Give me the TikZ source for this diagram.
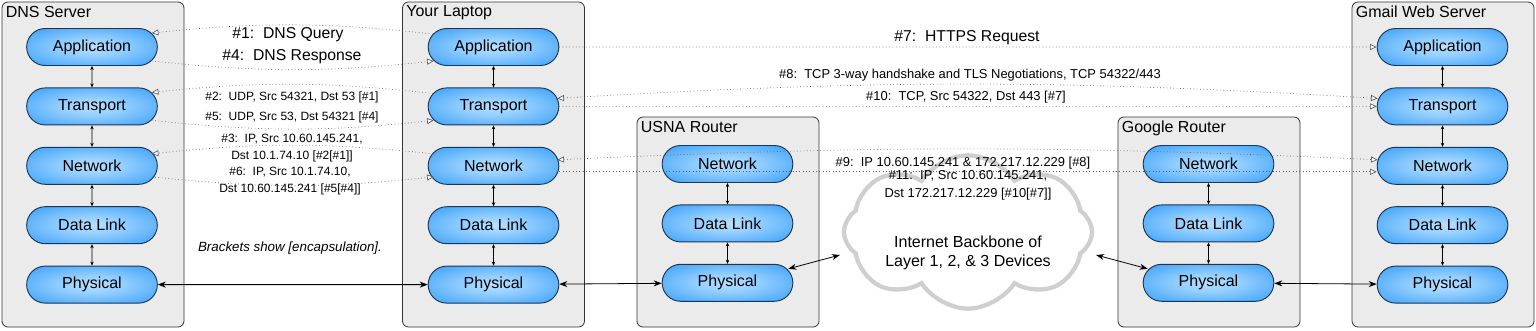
\documentclass[tikz,border=0pt]{standalone}
\usepackage{fontspec}
\setmainfont{Liberation Sans}
\usetikzlibrary{positioning,arrows.meta,shapes.misc,shapes.symbols}

\definecolor{boxgray}{HTML}{EBEBEB}
\definecolor{boxedge}{HTML}{333333}
\definecolor{pillin}{HTML}{B8E0FF}
\definecolor{pillmid}{HTML}{5CB4FF}
\definecolor{pillout}{HTML}{1A8CF5}
\definecolor{pilledge}{HTML}{1C3550}
\definecolor{msggray}{HTML}{5A5A5A}
\definecolor{cloudgray}{HTML}{CFCFCF}

\pgfdeclareradialshading{pillshade}{\pgfpointorigin}{color(0bp)=(pillin); color(12bp)=(pillin!60!pillmid); color(35bp)=(pillmid!50!pillout); color(50bp)=(pillout)}

\begin{document}
\begin{tikzpicture}[
  x=0.75pt, y=0.75pt,
  host/.style={draw=boxedge, fill=boxgray, rounded corners=4.5pt, line width=0.6pt, inner sep=0pt, minimum width=136.5pt},
  title/.style={anchor=north west, inner sep=3pt, font=\fontsize{12}{14}\selectfont},
  pill/.style={rounded rectangle, draw=pilledge, line width=0.7pt, shading=pillshade, minimum width=98pt, minimum height=27.75pt, inner sep=0pt, font=\fontsize{12}{14}\selectfont},
  updown/.style={{Stealth[length=3pt,width=2.6pt]}-{Stealth[length=3pt,width=2.6pt]}, line width=0.6pt},
  wire/.style={{Stealth[length=6pt,width=4.5pt]}-{Stealth[length=6pt,width=4.5pt]}, line width=0.6pt},
  msg/.style={dotted, draw=msggray, line width=0.5pt, -{Triangle[length=5pt,width=4.5pt,fill=white]}},
  msgboth/.style={msg, {Triangle[length=5pt,width=4.5pt,fill=white]}-{Triangle[length=5pt,width=4.5pt,fill=white]}},
  biglbl/.style={inner sep=1pt, font=\fontsize{11.8}{13}\selectfont},
  lbl/.style={inner sep=1pt, align=center, font=\fontsize{9}{12.5}\selectfont},
  widelbl/.style={lbl, font=\fontsize{9.7}{11}\selectfont}
]
\useasboundingbox (0,0) rectangle (1536,-330);

% hosts and routers
\node[host, minimum height=243.75pt, label={[title]north west:DNS Server}] (dns) at (93,-164.5) {};
\node[host, minimum height=243.75pt, label={[title]north west:Your Laptop}] (lap) at (493.5,-164.5) {};
\node[host, minimum height=157.5pt, label={[title]north west:USNA Router}] (usna) at (728,-222) {};
\node[host, minimum height=157.5pt, label={[title]north west:Google Router}] (goog) at (1209,-222) {};
\node[host, minimum height=243.75pt, label={[title]north west:Gmail Web Server}] (gmail) at (1443,-164.5) {};

% layer stacks
\node[pill] (dnsApp) at (92,-47) {Application};
\node[pill, below=16.1pt of dnsApp] (dnsTra) {Transport};
\node[pill, below=16.1pt of dnsTra] (dnsNet) {Network};
\node[pill, below=16.1pt of dnsNet] (dnsDl) {Data Link};
\node[pill, below=16.1pt of dnsDl] (dnsPhy) {Physical};

\node[pill] (lapApp) at (493.5,-47) {Application};
\node[pill, below=16.1pt of lapApp] (lapTra) {Transport};
\node[pill, below=16.1pt of lapTra] (lapNet) {Network};
\node[pill, below=16.1pt of lapNet] (lapDl) {Data Link};
\node[pill, below=16.1pt of lapDl] (lapPhy) {Physical};

\node[pill] (usnaNet) at (727.5,-164) {Network};
\node[pill, below=16.1pt of usnaNet] (usnaDl) {Data Link};
\node[pill, below=16.1pt of usnaDl] (usnaPhy) {Physical};

\node[pill] (googNet) at (1208.5,-164) {Network};
\node[pill, below=16.1pt of googNet] (googDl) {Data Link};
\node[pill, below=16.1pt of googDl] (googPhy) {Physical};

\node[pill] (gmailApp) at (1442.5,-47) {Application};
\node[pill, below=16.1pt of gmailApp] (gmailTra) {Transport};
\node[pill, below=16.1pt of gmailTra] (gmailNet) {Network};
\node[pill, below=16.1pt of gmailNet] (gmailDl) {Data Link};
\node[pill, below=16.1pt of gmailDl] (gmailPhy) {Physical};

\draw[updown] (dnsApp) -- (dnsTra);
\draw[updown] (dnsTra) -- (dnsNet);
\draw[updown] (dnsNet) -- (dnsDl);
\draw[updown] (dnsDl) -- (dnsPhy);
\draw[updown] (lapApp) -- (lapTra);
\draw[updown] (lapTra) -- (lapNet);
\draw[updown] (lapNet) -- (lapDl);
\draw[updown] (lapDl) -- (lapPhy);
\draw[updown] (usnaNet) -- (usnaDl);
\draw[updown] (usnaDl) -- (usnaPhy);
\draw[updown] (googNet) -- (googDl);
\draw[updown] (googDl) -- (googPhy);
\draw[updown] (gmailApp) -- (gmailTra);
\draw[updown] (gmailTra) -- (gmailNet);
\draw[updown] (gmailNet) -- (gmailDl);
\draw[updown] (gmailDl) -- (gmailPhy);

% backbone
\node[cloud, cloud puffs=8, cloud puff arc=115, cloud ignores aspect, draw=cloudgray, line width=3.2pt, fill=white, minimum width=186pt, minimum height=115pt] (backbone) at (968,-232) {};
\node[inner sep=1pt, align=center, font=\fontsize{12}{14.5}\selectfont] (backboneTxt) at (968,-253) {Internet Backbone of\\Layer 1, 2, \& 3 Devices};

% physical links
\draw[wire] (dnsPhy) -- (lapPhy);
\draw[wire] (lapPhy) -- (usnaPhy);
\draw[wire] ([shift={(-5,14)}]usnaPhy.east) -- ([shift={(-2,-23)}]backbone.west);
\draw[wire] ([shift={(2,-23)}]backbone.east) -- ([shift={(5,14)}]googPhy.west);
\draw[wire] (googPhy) -- (gmailPhy);

% DNS lookup
\draw[msg] ([shift={(5,13)}]lapApp.west) to[bend right=6] ([shift={(-6,14)}]dnsApp.east);
\draw[msg] ([shift={(-6,-14)}]dnsApp.east) to[bend right=6] ([shift={(6,-14)}]lapApp.west);
\draw[msg] ([shift={(5,13)}]lapTra.west) to[bend right=6] ([shift={(-6,14)}]dnsTra.east);
\draw[msg] ([shift={(-6,-14)}]dnsTra.east) to[bend right=6] ([shift={(6,-14)}]lapTra.west);
\draw[msg] ([shift={(5,12)}]lapNet.west) to[bend right=6] ([shift={(-6,12)}]dnsNet.east);
\draw[msg] ([shift={(-6,-11)}]dnsNet.east) to[bend right=6] ([shift={(6,-11)}]lapNet.west);

\node[biglbl] (m1) at (288,-35) {\#1:\ \ DNS Query};
\node[biglbl] (m4) at (292,-57) {\#4:\ \ DNS Response};
\node[lbl] (m2) at (292,-97) {\#2:\ \ UDP, Src 54321, Dst 53 [\#1]};
\node[lbl] (m5) at (292,-117) {\#5:\ \ UDP, Src 53, Dst 54321 [\#4]};
\node[lbl] (m3) at (292,-148) {\#3:\ \ IP, Src 10.60.145.241,\\Dst 10.1.74.10 [\#2[\#1]]};
\node[lbl] (m6) at (290,-181) {\#6:\ \ IP, Src 10.1.74.10,\\Dst 10.60.145.241 [\#5[\#4]]};
\node[lbl, font=\fontsize{10}{12}\selectfont\itshape] (note) at (290,-248) {Brackets show [encapsulation].};

% web request
\draw[msg] (lapApp) -- (gmailApp);
\draw[msgboth] ([shift={(-2,8)}]lapTra.east) to[bend left=3.4] ([shift={(1,8)}]gmailTra.west);
\draw[msg] (lapTra) -- (gmailTra);
\draw[msgboth] ([shift={(-2,6)}]lapNet.east) to[bend left=2.6] ([shift={(1,6)}]gmailNet.west);
\draw[msg] ([yshift=-4.5pt]lapNet.east) -- ([yshift=-4.5pt]gmailNet.west);

\node[biglbl] (m7) at (967,-38) {\#7:\ \ HTTPS Request};
\node[widelbl] (m8) at (970,-75) {\#8:\ \ TCP 3-way handshake and TLS Negotiations, TCP 54322/443};
\node[widelbl] (m10) at (966,-97) {\#10:\ \ TCP, Src 54322, Dst 443 [\#7]};
\node[widelbl] (m9) at (963,-163) {\#9:\ \ IP 10.60.145.241 \& 172.217.12.229 [\#8]};
\node[widelbl, font=\fontsize{9.7}{13.5}\selectfont] (m11) at (968,-185) {\#11:\ \ IP, Src 10.60.145.241,\\Dst 172.217.12.229 [\#10[\#7]]};
\end{tikzpicture}
\end{document}
